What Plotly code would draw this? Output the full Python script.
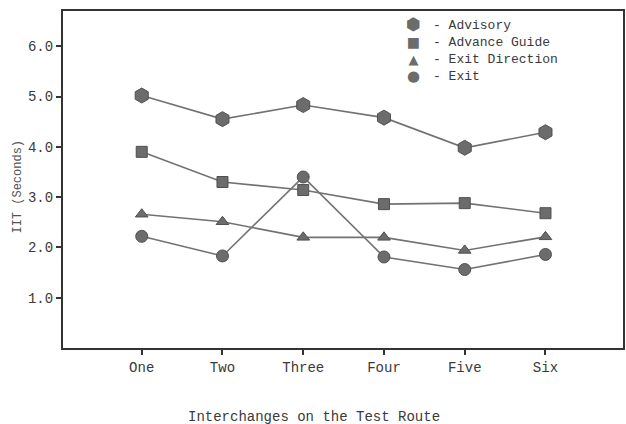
import plotly.graph_objects as go

categories = ["One", "Two", "Three", "Four", "Five", "Six"]
advisory = [5.02, 4.55, 4.83, 4.58, 3.98, 4.29]
advance_guide = [3.90, 3.30, 3.14, 2.86, 2.88, 2.68]
exit_direction = [2.66, 2.51, 2.20, 2.20, 1.94, 2.21]
exit_sign = [2.22, 1.83, 3.40, 1.81, 1.56, 1.86]
y_ticks = [1, 2, 3, 4, 5, 6]
y_tick_labels = ["1.0", "2.0", "3.0", "4.0", "5.0", "6.0"]
series_names = ["Advisory", "Advance Guide", "Exit Direction", "Exit"]
legend_glyphs = ["⬢", "■", "▲", "●"]

series_vals = [advisory, advance_guide, exit_direction, exit_sign]
symbols = ["hexagon", "square", "triangle-up", "circle"]
sizes = [15, 11, 11, 12]

FONT = "Liberation Mono, Courier New, monospace"
TXT = "#3a3a3a"
LINE = "#727272"
MARK = "#6c6c6c"

fig = go.Figure()
for name, vals, sym, size in zip(series_names, series_vals, symbols, sizes):
    fig.add_trace(go.Scatter(
        x=categories, y=vals, mode="lines+markers", showlegend=False,
        line=dict(color=LINE, width=1.6),
        marker=dict(symbol=sym, size=size, color=MARK, line=dict(color="#505050", width=1)),
        name=name,
    ))

glyph_sizes = [17, 14, 13, 15]
glyph_text = "<br>".join(
    f'<span style="font-family:DejaVu Sans;font-size:{gs}px">{g}</span>'
    for g, gs in zip(legend_glyphs, glyph_sizes)
)
legend_text = "<br>".join("- " + n for n in series_names)

annotations = [
    dict(text="Interchanges on the Test Route", xref="paper", yref="paper",
         x=0.448, y=-0.205, xanchor="center", yanchor="middle", showarrow=False,
         font=dict(family=FONT, size=14, color=TXT)),
    dict(text="IIT (Seconds)", xref="paper", yref="paper",
         x=-0.081, y=0.478, xanchor="center", yanchor="middle", showarrow=False,
         textangle=-90, font=dict(family=FONT, size=12, color="#555555")),
    dict(text=glyph_text, xref="paper", yref="paper", x=0.626, y=0.885,
         xanchor="center", yanchor="middle", align="center", showarrow=False,
         font=dict(family=FONT, size=13, color=MARK)),
    dict(text=legend_text, xref="paper", yref="paper", x=0.657, y=0.88,
         xanchor="left", yanchor="middle", align="left", showarrow=False,
         font=dict(family=FONT, size=13, color=TXT)),
]

fig.update_layout(
    width=626, height=424,
    margin=dict(l=63, r=1, t=11, b=76),
    paper_bgcolor="white", plot_bgcolor="white",
    font=dict(family=FONT, size=14, color=TXT),
    showlegend=False,
    xaxis=dict(
        type="category", range=[-0.975, 5.96],
        showgrid=False, zeroline=False,
        showline=True, linecolor="#333333", linewidth=2, mirror=True,
        ticks="outside", ticklen=5, tickcolor="#333333", tickwidth=1.5,
        tickfont=dict(family=FONT, size=14, color=TXT),
    ),
    yaxis=dict(
        range=[0, 6.7],
        tickvals=y_ticks, ticktext=y_tick_labels,
        showgrid=False, zeroline=False,
        showline=True, linecolor="#333333", linewidth=2, mirror=True,
        ticks="outside", ticklen=5, tickcolor="#333333", tickwidth=1.5,
        tickfont=dict(family=FONT, size=14, color=TXT),
    ),
    annotations=annotations,
)

fig.write_html("out.html", config={"displayModeBar": False},
               post_script="document.body.style.margin='0';")
